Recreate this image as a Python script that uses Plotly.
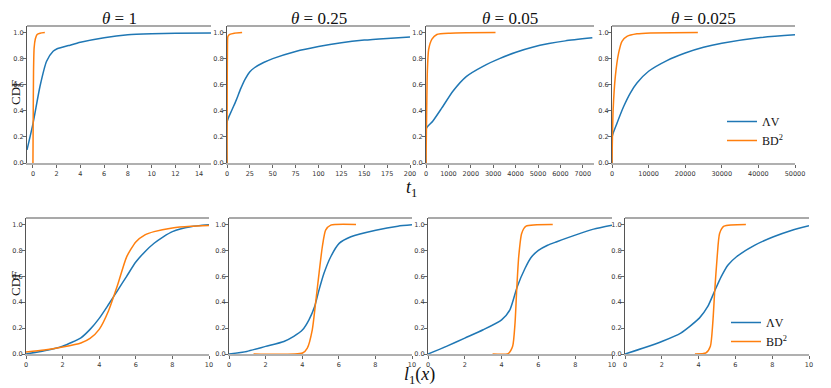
import plotly.graph_objects as go

W, H = 831, 388
OFF = 8  # the page body margin shifts the figure by this many pixels
BLUE = "#1f77b4"
ORANGE = "#ff7f0e"

thetas = ["1", "0.25", "0.05", "0.025"]

# ---- top row: CDF of t_1 ----
t_av_x = [
    [-0.5, 0, 0.6, 1.15, 1.7, 2, 3, 4, 6, 8, 10, 12, 15],
    [0, 0.3, 5, 10, 15, 20, 25, 30, 40, 50, 75, 100, 125, 150, 175, 200],
    [0, 20, 300, 700, 1200, 1809, 2544, 3279, 4015, 4750, 5485, 6220, 7426],
    [0, 50, 1364, 3182, 5000, 6818, 10000, 15000, 20000, 25000, 30000, 40000, 50000],
]
t_av_y = [
    [0.10, 0.30, 0.59, 0.78, 0.856, 0.874, 0.90, 0.925, 0.96, 0.982, 0.99, 0.994, 0.997],
    [0, 0.32, 0.40, 0.48, 0.57, 0.645, 0.70, 0.73, 0.77, 0.80, 0.855, 0.893, 0.922, 0.942, 0.955, 0.966],
    [0, 0.267, 0.32, 0.42, 0.55, 0.664, 0.741, 0.80, 0.849, 0.887, 0.915, 0.936, 0.959],
    [0, 0.203, 0.305, 0.433, 0.536, 0.613, 0.703, 0.785, 0.843, 0.887, 0.918, 0.96, 0.982],
]
t_bd_x = [
    [0, 0.02, 0.05, 0.1, 0.2, 0.35, 0.6, 1.0],
    [0, 0.2, 0.5, 1.0, 3, 8, 16.5],
    [0, 30, 60, 118, 265, 485, 1074, 1809, 3103],
    [0, 300, 909, 1818, 2727, 4091, 6818, 10455, 23455],
]
t_bd_y = [
    [0, 0.3, 0.7, 0.88, 0.95, 0.985, 0.995, 1.0],
    [0, 0.5, 0.9, 0.97, 0.985, 0.995, 1.0],
    [0, 0.4, 0.7, 0.87, 0.95, 0.985, 0.995, 0.998, 1.0],
    [0, 0.4, 0.664, 0.844, 0.933, 0.97, 0.99, 0.997, 1.0],
]
t_xrange = [[-0.5, 15], [0, 200], [0, 7500], [0, 50000]]
t_ticks = [
    [0, 2, 4, 6, 8, 10, 12, 14],
    [0, 25, 50, 75, 100, 125, 150, 175, 200],
    [0, 1000, 2000, 3000, 4000, 5000, 6000, 7000],
    [0, 10000, 20000, 30000, 40000, 50000],
]

# ---- bottom row: CDF of l_1(x) ----
l_av_x = [
    [0, 1, 2, 3, 3.5, 4, 4.5, 5, 5.5, 6, 6.5, 7, 7.5, 8, 9, 10],
    [0, 0.97, 2, 3, 3.54, 4.02, 4.37, 4.68, 4.92, 5.19, 5.56, 6.02, 6.66, 8.02, 9.23, 10],
    [0, 1, 2, 3, 4, 4.45, 4.85, 5.27, 5.6, 6, 6.5, 7, 8, 9, 10],
    [0, 1, 2, 3.03, 4.04, 4.5, 4.86, 5.23, 5.6, 6.06, 7.06, 8.07, 9.08, 10],
]
l_av_y = [
    [0, 0.025, 0.06, 0.125, 0.19, 0.275, 0.38, 0.49, 0.60, 0.71, 0.79, 0.855, 0.905, 0.945, 0.982, 0.997],
    [0, 0.02, 0.059, 0.097, 0.136, 0.187, 0.264, 0.367, 0.495, 0.623, 0.751, 0.854, 0.905, 0.956, 0.987, 0.997],
    [0, 0.059, 0.123, 0.187, 0.264, 0.341, 0.52, 0.66, 0.745, 0.80, 0.84, 0.867, 0.918, 0.964, 0.994],
    [0, 0.046, 0.097, 0.162, 0.277, 0.367, 0.482, 0.597, 0.687, 0.751, 0.841, 0.905, 0.956, 0.99],
]
l_bd_x = [
    [0, 1, 2, 3, 3.5, 4, 4.5, 5, 5.5, 6, 6.5, 7, 8, 9, 10],
    [1.34, 4.02, 4.28, 4.55, 4.73, 4.92, 5.1, 5.28, 5.56, 6.94],
    [3.51, 4.36, 4.6, 4.73, 4.82, 4.93, 5.09, 5.33, 6.78],
    [3.8, 4.4, 4.64, 4.77, 4.88, 5.01, 5.14, 5.38, 6.57],
]
l_bd_y = [
    [0.015, 0.03, 0.054, 0.085, 0.12, 0.19, 0.33, 0.53, 0.75, 0.865, 0.92, 0.945, 0.973, 0.986, 0.992],
    [0, 0.008, 0.046, 0.187, 0.392, 0.623, 0.828, 0.956, 0.995, 1.0],
    [0, 0.003, 0.059, 0.238, 0.495, 0.751, 0.931, 0.987, 1.0],
    [0, 0.008, 0.059, 0.238, 0.495, 0.751, 0.931, 0.987, 1.0],
]
l_xrange = [0, 10]
l_ticks = [0, 2, 4, 6, 8, 10]

y_ticks = [0, 0.2, 0.4, 0.6, 0.8, 1.0]
labels = ["ΛV", "BD<sup>2</sup>"]

# panel boxes in screen pixels (left, right) and (top, bottom)
top_px = [(27, 211), (227, 410), (426, 594), (612, 795)]
bot_px = [(26, 209), (229, 412), (428, 612), (625, 809)]
top_y = (26, 163)
bot_y = (218, 354)


def px(x):
    return (x - OFF) / W


def py(y):
    return 1 - (y - OFF) / H


fig = go.Figure()
tick_font = dict(family="DejaVu Sans", size=6.5, color="#333")
serif = "Liberation Serif"


def add_axes(idx, xdom, ydom, xrange, xticks):
    sfx = "" if idx == 1 else str(idx)
    fig.layout["xaxis" + sfx] = dict(
        domain=[px(xdom[0]), px(xdom[1])], range=xrange,
        tickvals=xticks, ticktext=[str(v) for v in xticks],
        anchor="y" + sfx, showgrid=False, zeroline=False, automargin=False,
        showline=True, linecolor="#b0b0b0", linewidth=2, ticks="outside",
        ticklen=3, tickcolor="#666", tickfont=tick_font, fixedrange=True,
    )
    fig.layout["yaxis" + sfx] = dict(
        domain=[py(ydom[1]), py(ydom[0])], range=[0, 1.05], tickvals=y_ticks,
        tickformat=".1f", anchor="x" + sfx, showgrid=False, automargin=False,
        zeroline=False, showline=True, linecolor="#555", linewidth=1, ticks="outside",
        ticklen=3, tickcolor="#666", tickfont=tick_font, fixedrange=True,
        ticklabelstandoff=-2,
    )
    # top spine
    fig.add_shape(type="line", xref=f"x{sfx} domain", yref=f"y{sfx} domain",
                  x0=0, x1=1, y0=1, y1=1, line=dict(color="#555", width=1.2))


def add_curve(x, y, color, name, sfx, show, legend):
    fig.add_trace(go.Scatter(x=x, y=y, mode="lines", xaxis="x" + sfx, yaxis="y" + sfx,
                             line=dict(color=color, width=1.5, shape="spline", smoothing=0.6),
                             name=name, showlegend=show, legend=legend))


def label(text, x, y, size, angle=0):
    fig.add_annotation(text=text, xref="paper", yref="paper", x=px(x), y=py(y),
                       xanchor="center", yanchor="middle", textangle=angle,
                       showarrow=False, font=dict(family=serif, size=size, color="#111"))


for i in range(4):
    idx = i + 1
    sfx = "" if idx == 1 else str(idx)
    add_axes(idx, top_px[i], top_y, t_xrange[i], t_ticks[i])
    add_curve(t_av_x[i], t_av_y[i], BLUE, labels[0], sfx, i == 3, "legend")
    add_curve(t_bd_x[i], t_bd_y[i], ORANGE, labels[1], sfx, i == 3, "legend")
    label(f"<i>θ</i> = {thetas[i]}", (top_px[i][0] + top_px[i][1]) / 2, 18, 17)

for i in range(4):
    idx = i + 5
    sfx = str(idx)
    add_axes(idx, bot_px[i], bot_y, l_xrange, l_ticks)
    add_curve(l_av_x[i], l_av_y[i], BLUE, labels[0], sfx, i == 3, "legend2")
    add_curve(l_bd_x[i], l_bd_y[i], ORANGE, labels[1], sfx, i == 3, "legend2")

# axis labels
for yc in [92, 283]:
    label("CDF", 15, yc, 13, -90)
label("<i>t</i><sub>1</sub>", 411, 188, 18)
label("<i>l</i><sub>1</sub>(<i>x</i>)", 419, 375, 18)

leg = dict(font=dict(family=serif, size=12, color="#111"), bgcolor="rgba(0,0,0,0)",
           xanchor="left", yanchor="top", tracegroupgap=0, itemwidth=30)
fig.update_layout(
    width=W, height=H, margin=dict(l=0, r=0, t=0, b=0, autoexpand=False),
    paper_bgcolor="white", plot_bgcolor="white",
    legend=dict(leg, x=px(722), y=py(107)),
    legend2=dict(leg, x=px(726), y=py(308)),
)

fig.write_html("out.html")
